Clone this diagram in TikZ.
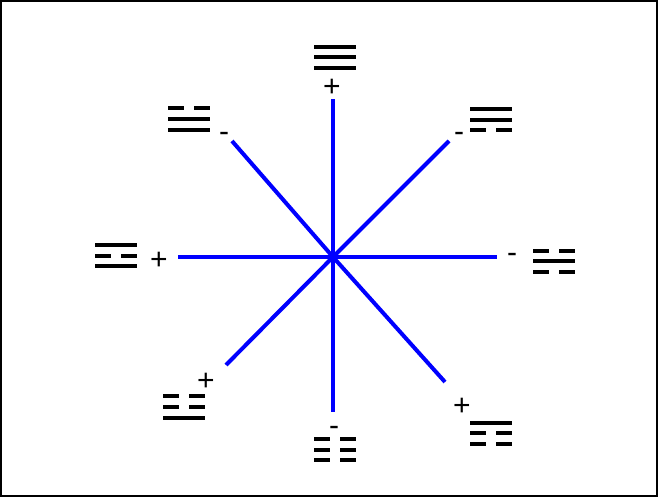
\documentclass[tikz,border=0pt]{standalone}
\usepackage{fontspec}
\setmainfont{Liberation Sans}
\begin{document}
\begin{tikzpicture}[x=1pt,y=-1pt,
  axis/.style={draw=blue,line width=4pt},
  yao/.style={fill=black},
  sign/.style={inner sep=0pt,anchor=base,font=\fontsize{30}{30}\selectfont},
  frame/.style={draw=black,line width=2pt}]
\useasboundingbox (0,0) rectangle (658,497);
\draw[frame] (1,1) rectangle (657,496);
\newcommand\yaoS[2]{\fill[yao] (#1,#2-2) rectangle (#1+42,#2+2);}
\newcommand\yaoB[2]{\fill[yao] (#1,#2-2) rectangle (#1+16,#2+2);\fill[yao] (#1+26,#2-2) rectangle (#1+42,#2+2);}
\coordinate (c) at (333,257);
\coordinate (eT) at (333,99);
\coordinate (eB) at (333,412);
\coordinate (eL) at (178,257);
\coordinate (eR) at (497,257);
\coordinate (eUL) at (232,141);
\coordinate (eUR) at (449,141);
\coordinate (eLL) at (226,365);
\coordinate (eLR) at (445,382);
\foreach \e in {eT,eB,eL,eR,eUL,eUR,eLL,eLR} \draw[axis] (c) -- (\e);
% top
\yaoS{314}{47}\yaoS{314}{57.5}\yaoS{314}{68}
\node[sign] (sT) at (332,96.5) {+};
% upper left
\yaoB{168}{108.5}\yaoS{168}{119.5}\yaoS{168}{130.5}
\node[sign] (sUL) at (224,142) {-};
% upper right
\yaoS{470}{109.5}\yaoS{470}{120}\yaoB{470}{130.5}
\node[sign] (sUR) at (459,142) {-};
% left
\yaoS{95}{245}\yaoB{95}{255.5}\yaoS{95}{266}
\node[sign] (sL) at (159,269.5) {+};
% right
\yaoB{533}{251}\yaoS{533}{261}\yaoB{533}{271.5}
\node[sign] (sR) at (512,262.5) {-};
% lower left
\yaoB{163}{396}\yaoB{163}{407}\yaoS{163}{418}
\node[sign] (sLL) at (206,390.5) {+};
% lower right
\yaoS{470}{423}\yaoB{470}{433}\yaoB{470}{443.5}
\node[sign] (sLR) at (462,415) {+};
% bottom
\yaoB{314}{439}\yaoB{314}{449.5}\yaoB{314}{460}
\node[sign] (sB) at (334,435.5) {-};
\end{tikzpicture}
\end{document}
